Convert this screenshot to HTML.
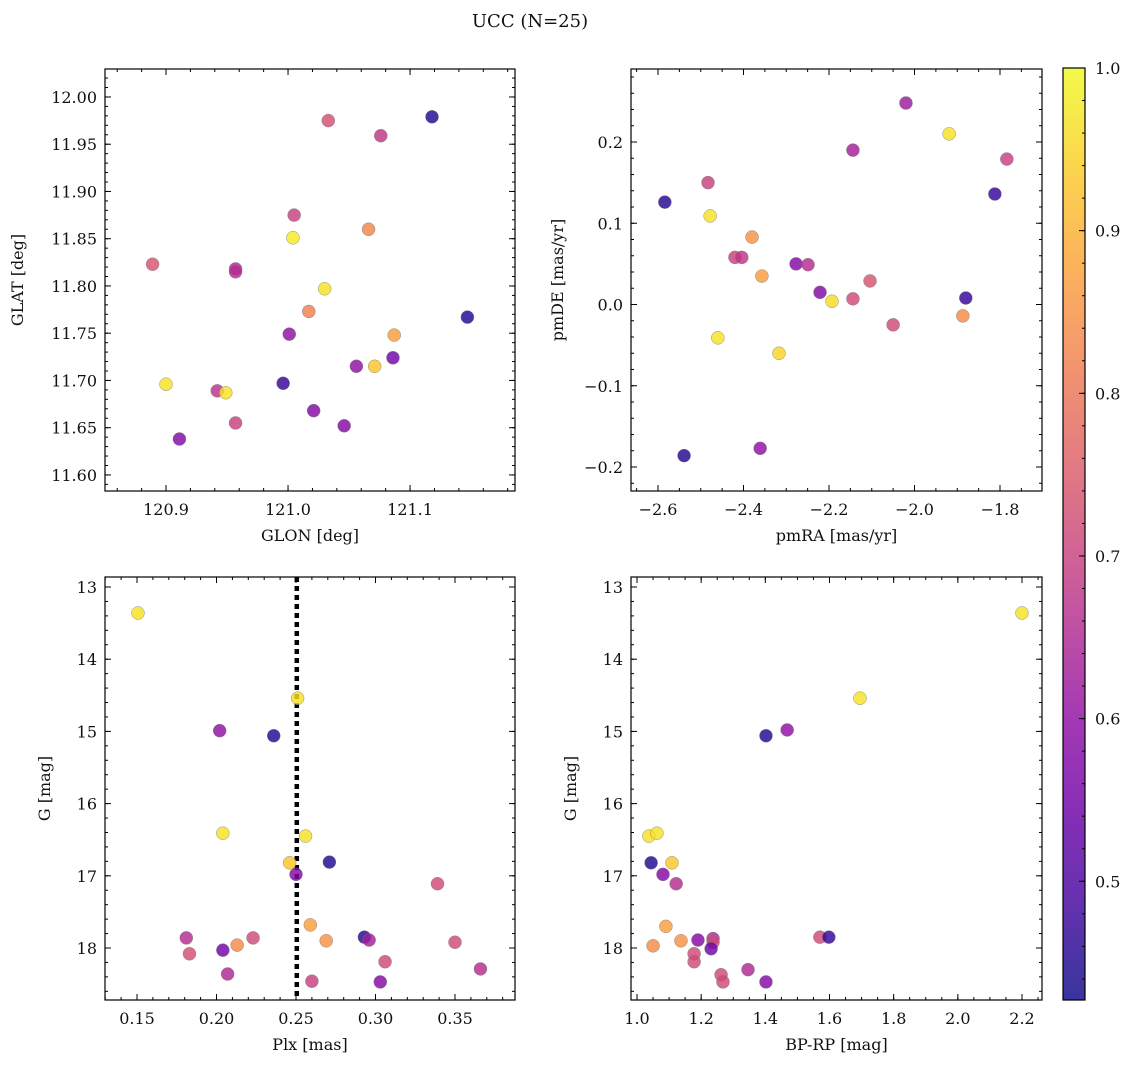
<!DOCTYPE html>
<html><head><meta charset="utf-8"><style>
body{margin:0;background:#fff;}
svg text{font-family:"DejaVu Serif","Liberation Serif",serif;fill:#111;}
</style></head><body>
<svg id="fig" width="1136" height="1068" viewBox="0 0 1136 1068" xmlns="http://www.w3.org/2000/svg">
<text x="530" y="27" font-size="18" text-anchor="middle">UCC (N=25)</text>
<defs><linearGradient id="cbg" x1="0" y1="1" x2="0" y2="0"></linearGradient></defs>
</svg>
<script>
// Panel 1: GLON vs GLAT
const p1x=[121.118,121.033,121.076,121.005,121.004,121.066,120.889,120.957,120.957,121.030,121.017,121.147,121.001,121.087,121.056,121.071,121.086,120.900,120.942,120.949,120.996,120.957,121.021,121.046,120.911];
const p1y=[11.979,11.975,11.959,11.875,11.851,11.860,11.823,11.818,11.815,11.797,11.773,11.767,11.749,11.748,11.715,11.715,11.724,11.696,11.689,11.687,11.697,11.655,11.668,11.652,11.638];
const p1c=[0.45,0.73,0.68,0.70,0.98,0.83,0.74,0.65,0.66,0.97,0.82,0.45,0.60,0.87,0.60,0.93,0.55,0.97,0.67,0.97,0.47,0.70,0.58,0.58,0.58];
// Panel 2: pmRA vs pmDE
const p2x=[-2.020,-1.919,-1.784,-1.812,-2.144,-2.483,-2.584,-2.478,-2.380,-2.420,-2.404,-2.357,-2.277,-2.249,-2.221,-2.193,-2.144,-2.104,-2.050,-1.880,-1.887,-2.460,-2.317,-2.361,-2.539];
const p2y=[0.248,0.210,0.179,0.136,0.190,0.150,0.126,0.109,0.083,0.058,0.058,0.035,0.050,0.049,0.015,0.004,0.007,0.029,-0.025,0.008,-0.014,-0.041,-0.060,-0.177,-0.186];
const p2c=[0.62,0.97,0.70,0.47,0.63,0.70,0.45,0.97,0.85,0.70,0.68,0.87,0.58,0.66,0.58,0.96,0.72,0.74,0.72,0.47,0.84,0.97,0.95,0.60,0.45];
// Panel 3: Plx vs G
const p3x=[0.1506,0.251,0.202,0.236,0.204,0.256,0.246,0.271,0.250,0.339,0.259,0.181,0.223,0.213,0.204,0.183,0.269,0.293,0.296,0.350,0.306,0.207,0.366,0.260,0.303];
const p3y=[13.36,14.54,14.99,15.06,16.41,16.45,16.82,16.81,16.98,17.11,17.68,17.86,17.86,17.96,18.03,18.08,17.90,17.85,17.89,17.92,18.19,18.36,18.29,18.46,18.47];
const p3c=[0.97,0.97,0.60,0.45,0.97,0.97,0.93,0.45,0.58,0.72,0.87,0.66,0.72,0.84,0.55,0.73,0.85,0.45,0.63,0.72,0.72,0.65,0.66,0.70,0.58];
// Panel 4: BP-RP vs G
const p4x=[2.200,1.695,1.468,1.402,1.037,1.062,1.044,1.109,1.081,1.122,1.090,1.050,1.137,1.190,1.237,1.237,1.570,1.598,1.231,1.178,1.178,1.262,1.268,1.346,1.402];
const p4y=[13.36,14.54,14.98,15.06,16.45,16.41,16.82,16.82,16.98,17.11,17.70,17.97,17.90,17.89,17.87,17.92,17.85,17.85,18.01,18.08,18.19,18.37,18.47,18.30,18.47];
const p4c=[0.97,0.97,0.60,0.45,0.97,0.97,0.45,0.93,0.58,0.66,0.87,0.84,0.85,0.58,0.65,0.72,0.72,0.47,0.55,0.72,0.72,0.72,0.72,0.65,0.58];
const plxLine=0.2505;
const cbTicks=[0.5,0.6,0.7,0.8,0.9,1.0];
const vmin=0.427,vmax=1.0;

const NS="http://www.w3.org/2000/svg";
const svg=document.getElementById('fig');
function mk(tag,attrs,parent){const e=document.createElementNS(NS,tag);for(const k in attrs)e.setAttribute(k,attrs[k]);(parent||svg).appendChild(e);return e;}
const stops=["#0d0887","#41049d","#6a00a8","#8f0da4","#b12a90","#cc4778","#e16462","#f2844b","#fca636","#fcce25","#f0f921"];
function hex(h){return [1,3,5].map(i=>parseInt(h.substr(i,2),16));}
function plasma(t){t=Math.max(0,Math.min(1,t));const f=t*10,i=Math.min(9,Math.floor(f)),r=f-i;const a=hex(stops[i]),b=hex(stops[i+1]);return 'rgb('+a.map((v,k)=>Math.round(v+(b[k]-v)*r)).join(',')+')';}
function cmap(v){return plasma((v-vmin)/(vmax-vmin));}
function fmt(v,d){return v.toFixed(d).replace('-','\u2212');}

function panel(o){
  const g=mk('g',{});
  
  
  const X=v=>o.x0+(v-o.xmin)/(o.xmax-o.xmin)*(o.x1-o.x0);
  const Y=o.inv?(v=>o.y0+(v-o.ymin)/(o.ymax-o.ymin)*(o.y1-o.y0)):(v=>o.y1-(v-o.ymin)/(o.ymax-o.ymin)*(o.y1-o.y0));
  const tk=(v0,v1,st,fn)=>{const n0=Math.ceil(v0/st-1e-6),n1=Math.floor(v1/st+1e-6);for(let n=n0;n<=n1;n++)fn(n*st);};
  tk(o.xmin,o.xmax,o.xmi,v=>{const x=X(v);mk('line',{x1:x,x2:x,y1:o.y1,y2:o.y1-3,stroke:'#000','stroke-width':1},g);mk('line',{x1:x,x2:x,y1:o.y0,y2:o.y0+3,stroke:'#000','stroke-width':1},g);});
  tk(o.ymin,o.ymax,o.ymi,v=>{const y=Y(v);mk('line',{x1:o.x0,x2:o.x0+3,y1:y,y2:y,stroke:'#000','stroke-width':1},g);mk('line',{x1:o.x1,x2:o.x1-3,y1:y,y2:y,stroke:'#000','stroke-width':1},g);});
  tk(o.xmin,o.xmax,o.xma,v=>{const x=X(v);mk('line',{x1:x,x2:x,y1:o.y1,y2:o.y1-6,stroke:'#000','stroke-width':1},g);mk('line',{x1:x,x2:x,y1:o.y0,y2:o.y0+6,stroke:'#000','stroke-width':1},g);
    const t=mk('text',{x:x,y:o.y1+24,'font-size':16,'text-anchor':'middle'},g);t.textContent=fmt(v,o.xd);
    
    });
  tk(o.ymin,o.ymax,o.yma,v=>{const y=Y(v);mk('line',{x1:o.x0,x2:o.x0+6,y1:y,y2:y,stroke:'#000','stroke-width':1},g);mk('line',{x1:o.x1,x2:o.x1-6,y1:y,y2:y,stroke:'#000','stroke-width':1},g);
    const t=mk('text',{x:o.x0-8,y:y+6,'font-size':16,'text-anchor':'end'},g);t.textContent=fmt(v,o.yd);
    
    });
  if(o.vline!==undefined){const l=mk('line',{x1:X(o.vline),x2:X(o.vline),y1:o.y0,y2:o.y1,stroke:'#000','stroke-width':4.5,'stroke-dasharray':'5,4'},g);
    
    }
  o.xs.forEach((v,i)=>{const c=mk('circle',{cx:X(v),cy:Y(o.ys[i]),r:6.5,fill:cmap(o.cs[i]),'fill-opacity':0.82,stroke:'#777','stroke-width':0.4},g);
    
    });
  mk('rect',{x:o.x0,y:o.y0,width:o.x1-o.x0,height:o.y1-o.y0,fill:'none',stroke:'#000','stroke-width':1.2},g);
  const xl=mk('text',{x:(o.x0+o.x1)/2,y:o.y1+50,'font-size':16,'text-anchor':'middle'},g);xl.textContent=o.xlab;
  
  
  const yx=o.x0-o.ylo,yy=(o.y0+o.y1)/2;
  const yl=mk('text',{x:yx,y:yy,'font-size':16,'text-anchor':'middle',transform:'rotate(-90 '+yx+' '+yy+')'},g);yl.textContent=o.ylab;
  
  
}
panel({name:'glon-glat-panel',x0:105,x1:515,y0:69,y1:491,xmin:120.85,xmax:121.186,ymin:11.583,ymax:12.0296,xma:0.1,xmi:0.02,yma:0.05,ymi:0.01,xd:1,yd:2,xs:p1x,ys:p1y,cs:p1c,xlab:'GLON [deg]',ylab:'GLAT [deg]',ylo:82});
panel({name:'pm-panel',x0:631,x1:1042,y0:69,y1:491,xmin:-2.6-27/427.5,xmax:-1.8+42/427.5,ymin:-0.2-24/812.5,ymax:0.2+73/812.5,xma:0.2,xmi:0.05,yma:0.1,ymi:0.02,xd:1,yd:1,xs:p2x,ys:p2y,cs:p2c,xlab:'pmRA [mas/yr]',ylab:'pmDE [mas/yr]',ylo:68});
panel({name:'plx-g-panel',x0:105,x1:515,y0:577,y1:1000,inv:true,xmin:0.15-32/1590,xmax:0.35+60/1590,ymin:13-10/72.2,ymax:18+52/72.2,xma:0.05,xmi:0.01,yma:1,ymi:0.2,xd:2,yd:0,xs:p3x,ys:p3y,cs:p3c,xlab:'Plx [mas]',ylab:'G [mag]',ylo:55,vline:plxLine});
panel({name:'color-mag-panel',x0:631,x1:1042,y0:577,y1:1000,inv:true,xmin:1.0-6/320.8,xmax:2.2+20/320.8,ymin:13-10/72.2,ymax:18+52/72.2,xma:0.2,xmi:0.05,yma:1,ymi:0.2,xd:1,yd:0,xs:p4x,ys:p4y,cs:p4c,xlab:'BP-RP [mag]',ylab:'G [mag]',ylo:55});

const grad=document.getElementById('cbg');
for(let i=0;i<=20;i++){mk('stop',{offset:i/20,'stop-color':plasma(i/20),'stop-opacity':0.82},grad);}
const cb=mk('g',{});


const cx0=1063,cx1=1085,cy0=68,cy1=1000;
mk('rect',{x:cx0,y:cy0,width:cx1-cx0,height:cy1-cy0,fill:'url(#cbg)'},cb);
const CY=v=>cy1-(v-vmin)/(vmax-vmin)*(cy1-cy0);
for(let n=Math.ceil(vmin/0.02);n<=50;n++){const y=CY(n*0.02);mk('line',{x1:cx1,x2:cx1-3,y1:y,y2:y,stroke:'#000','stroke-width':1},cb);}
cbTicks.forEach(v=>{const y=CY(v);mk('line',{x1:cx1,x2:cx1-6,y1:y,y2:y,stroke:'#000','stroke-width':1},cb);
  const t=mk('text',{x:cx1+10,y:y+6,'font-size':16},cb);t.textContent=v.toFixed(1);
  
  });
mk('rect',{x:cx0,y:cy0,width:cx1-cx0,height:cy1-cy0,fill:'none',stroke:'#000','stroke-width':1.2},cb);
</script>
</body></html>
